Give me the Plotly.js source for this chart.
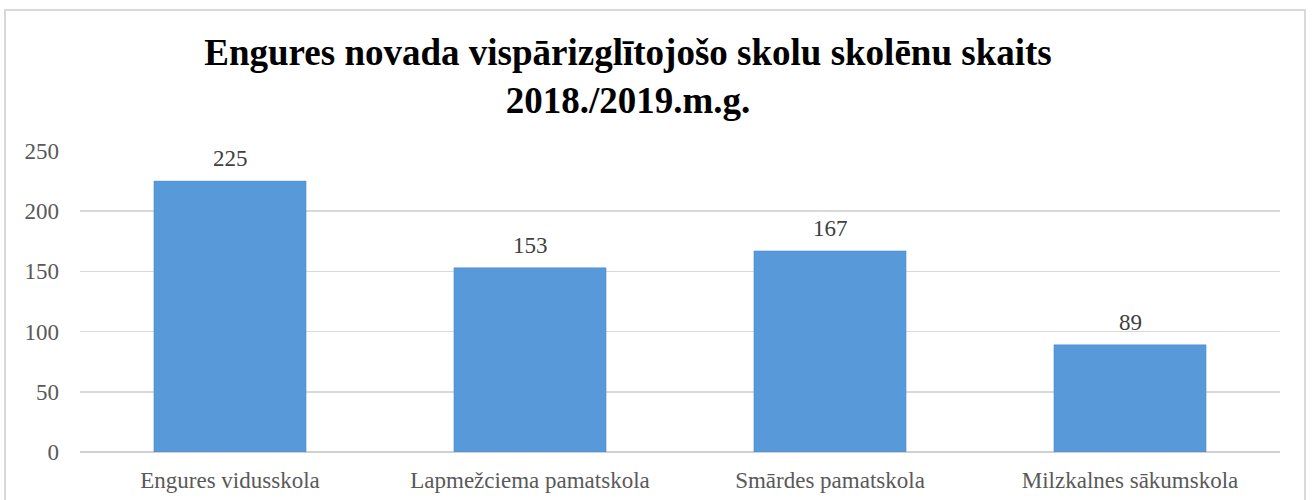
<!DOCTYPE html>
<html>
<head>
<meta charset="utf-8">
<script src="https://cdn.plot.ly/plotly-3.0.1.min.js"></script>
<style>
  body { margin: 0; background: #fff; }
  #wrap { position: relative; width: 1314px; height: 500px; }
  #chart { width: 1314px; height: 500px; }
  #frame { position: absolute; left: 4px; top: 9px; width: 1302px; height: 500px;
           border: 2px solid #d9d9d9; box-sizing: border-box; pointer-events: none; }
</style>
</head>
<body>
<div id="wrap">
  <div id="chart"></div>
  <div id="frame"></div>
</div>
<script>
var schools = ['Engures vidusskola', 'Lapmežciema pamatskola', 'Smārdes pamatskola', 'Milzkalnes sākumskola'];
var pupils = [225, 153, 167, 89];
var yTicks = [0, 50, 100, 150, 200, 250];

var serif = 'Liberation Serif, Times New Roman, serif';

var trace = {
    x: schools,
    y: pupils,
    type: 'bar',
    marker: {
        color: '#5799d9',
        line: {color: '#4a8bcc', width: 0.5}
    },
    hoverinfo: 'x+y'
};

// value labels sit a bit higher above the bars than plotly's outside text
var labels = schools.map(function (s, i) {
    return {
        x: s, y: pupils[i], xref: 'x', yref: 'y',
        text: String(pupils[i]),
        showarrow: false,
        yanchor: 'bottom',
        yshift: 8,
        font: {family: serif, size: 23, color: '#404040'}
    };
});

var layout = {
    width: 1314,
    height: 500,
    margin: {l: 80, r: 34, t: 151, b: 48},
    paper_bgcolor: '#ffffff',
    plot_bgcolor: '#ffffff',
    bargap: 0.493,
    showlegend: false,
    font: {family: serif, color: '#595959'},
    title: {
        text: 'Engures novada vispārizglītojošo skolu skolēnu skaits<br>2018./2019.m.g.',
        font: {family: serif, size: 37, color: '#000000', weight: 'bold'},
        xref: 'container', x: 628 / 1314, xanchor: 'center',
        yref: 'container', y: 1 - 65 / 500, yanchor: 'top'
    },
    annotations: labels,
    xaxis: {
        tickfont: {size: 23, color: '#595959'},
        ticklabelstandoff: 12,
        showline: false,
        ticks: '',
        showgrid: false
    },
    yaxis: {
        range: [0, 250],
        tickvals: yTicks,
        tickfont: {size: 23, color: '#595959'},
        ticklabelstandoff: 20,
        gridcolor: '#d9d9d9',
        gridwidth: 1.5,
        zeroline: true,
        zerolinecolor: '#d0d0d0',
        zerolinewidth: 2,
        showline: false,
        ticks: ''
    }
};

Plotly.newPlot('chart', [trace], layout, {displayModeBar: false, staticPlot: true});
</script>
</body>
</html>
